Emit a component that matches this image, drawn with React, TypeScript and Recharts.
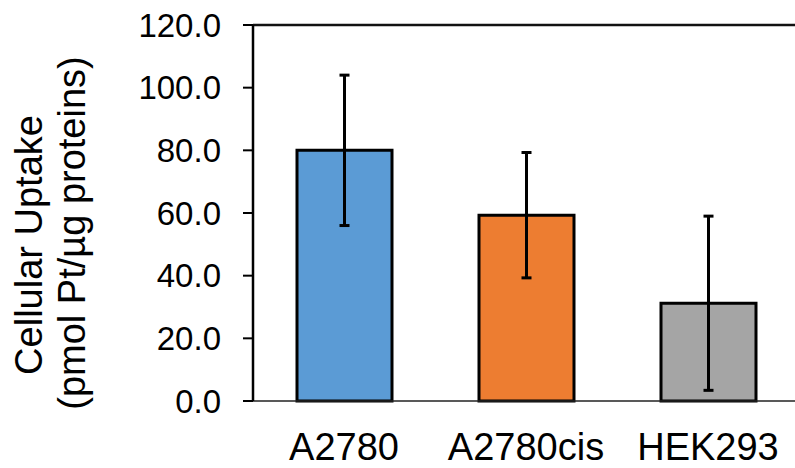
import { BarChart, Bar, XAxis, YAxis, ErrorBar, Cell, ReferenceLine } from "recharts";

const cellLines = ["A2780", "A2780cis", "HEK293"];
const uptake = [80.0, 59.3, 31.2];
const uptakeSd = [24.0, 20.0, 27.8];
const barColors = ["#5B9BD5", "#ED7D31", "#A5A5A5"];
const yTicks = [0, 20, 40, 60, 80, 100, 120];
const titleLines = ["Cellular Uptake", "(pmol Pt/\u00b5g proteins)"];

const data = cellLines.map((name, i) => ({ name, value: uptake[i], err: uptakeSd[i] }));

const FONT = "'Liberation Sans', Arial, sans-serif";

// two-line rotated y title, placed by hand like the original
function YTitle() {
  const centers = [245, 233];
  return (
    <g>
      {titleLines.map((line, i) => {
        const x = 42 + i * 43;
        const y = centers[i];
        return (
          <text
            key={i}
            x={x}
            y={y}
            transform={`rotate(-90 ${x} ${y})`}
            textAnchor="middle"
            fontSize={38}
            fontFamily={FONT}
            fill="#000"
          >
            {line}
          </text>
        );
      })}
    </g>
  );
}

export default function App() {
  return (
    <div
      style={{
        position: "absolute",
        left: 0,
        top: 0,
        width: 795,
        height: 468,
        overflow: "hidden",
        background: "#fff",
      }}
    >
      <BarChart
        width={800}
        height={468}
        data={data}
        margin={{ top: 25, right: 1, left: 0, bottom: 0 }}
      >
        <XAxis
          dataKey="name"
          height={67}
          tickLine={false}
          tickSize={0}
          tickMargin={32}
          axisLine={{ stroke: "#222", strokeWidth: 1.5 }}
          tick={{ fontSize: 38, fill: "#000", fontFamily: FONT }}
        />
        <YAxis
          width={253}
          domain={[0, 120]}
          ticks={yTicks}
          interval={0}
          tickFormatter={(v: number) => v.toFixed(1)}
          tickSize={10}
          tickMargin={22}
          tickLine={{ stroke: "#000", strokeWidth: 2 }}
          axisLine={{ stroke: "#000", strokeWidth: 2.5 }}
          tick={{ fontSize: 33, fill: "#000", fontFamily: FONT }}
          label={{ content: () => <YTitle /> }}
        />
        <ReferenceLine y={120} stroke="#111" strokeWidth={2.5} />
        <Bar dataKey="value" barSize={95} stroke="#000" strokeWidth={3} isAnimationActive={false}>
          {data.map((_d, i) => (
            <Cell key={i} fill={barColors[i]} />
          ))}
          <ErrorBar dataKey="err" width={5} stroke="#000" strokeWidth={3} direction="y" />
        </Bar>
      </BarChart>
    </div>
  );
}
